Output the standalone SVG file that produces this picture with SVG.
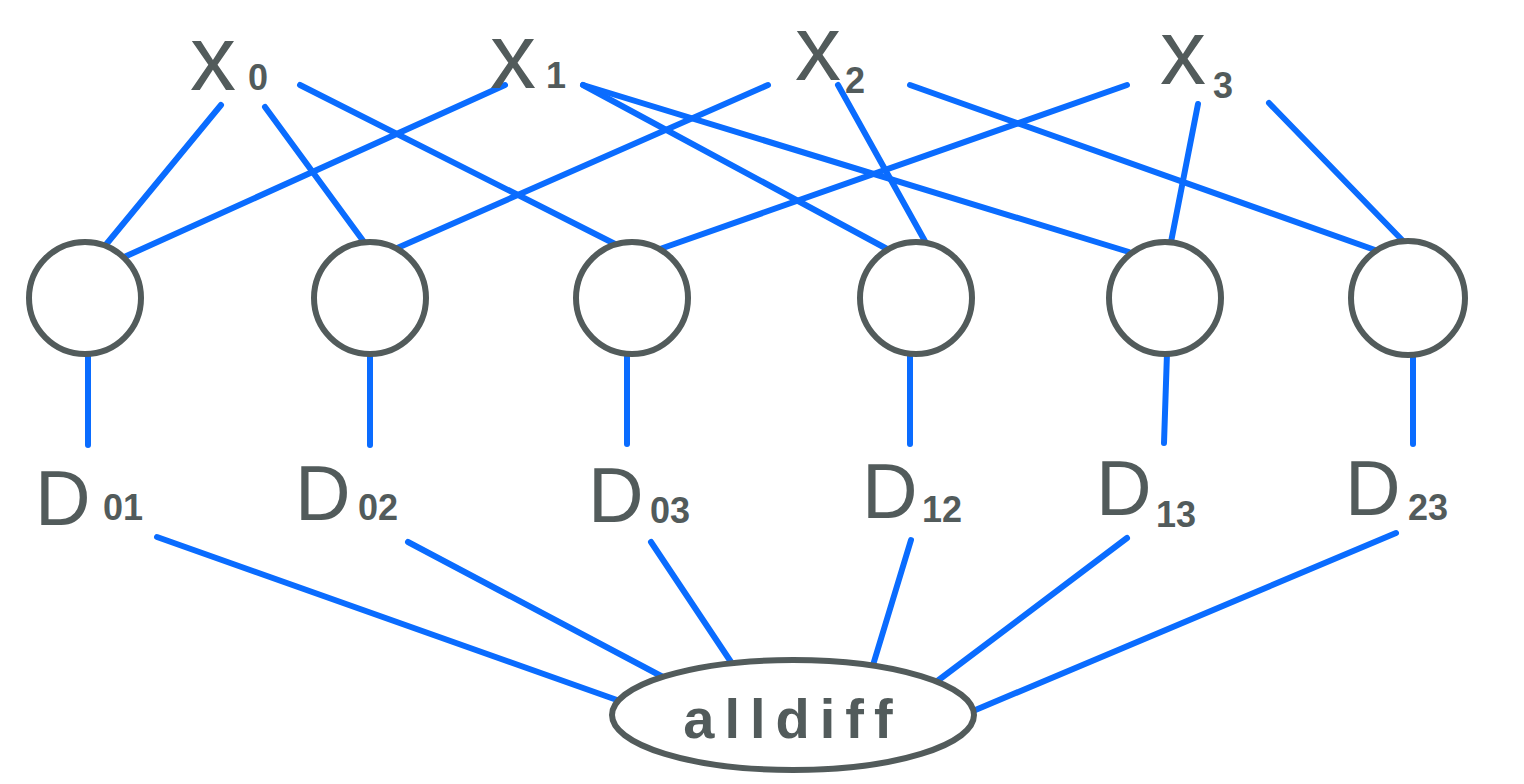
<svg xmlns="http://www.w3.org/2000/svg" width="1524" height="784" viewBox="0 0 1524 784">
<style>
.e{stroke:#0a6cff;stroke-width:6;stroke-linecap:round;fill:none}
.n{fill:#fff;stroke:#525b5b;stroke-width:6}
.t{fill:#525b5b;font-family:"Liberation Sans",Arial,sans-serif}
.v{font-size:92px}
.d{font-size:77px}
.s{font-size:36px;font-weight:bold}
</style>
<rect width="1524" height="784" fill="#fff"/>
<g id="connectors">
<line class="e" x1="221" y1="105" x2="104" y2="247"/>
<line class="e" x1="265" y1="107" x2="364" y2="242"/>
<line class="e" x1="300" y1="85" x2="617" y2="245"/>
<line class="e" x1="505" y1="85" x2="122" y2="258"/>
<line class="e" x1="583" y1="85" x2="889" y2="250"/>
<line class="e" x1="583" y1="85" x2="1129" y2="252"/>
<line class="e" x1="768" y1="85" x2="395" y2="249"/>
<line class="e" x1="838" y1="85" x2="926" y2="243"/>
<line class="e" x1="910" y1="85" x2="1375" y2="250"/>
<line class="e" x1="1127" y1="85" x2="660" y2="249"/>
<line class="e" x1="1198" y1="104" x2="1171" y2="242"/>
<line class="e" x1="1269" y1="103" x2="1405" y2="243"/>
<line class="e" x1="88" y1="353" x2="88" y2="445"/>
<line class="e" x1="370" y1="353" x2="370" y2="445"/>
<line class="e" x1="627" y1="353" x2="627" y2="444"/>
<line class="e" x1="910" y1="353" x2="910" y2="444"/>
<line class="e" x1="1167" y1="353" x2="1164" y2="443"/>
<line class="e" x1="1413" y1="353" x2="1413" y2="444"/>
<line class="e" x1="157" y1="537" x2="617" y2="700"/>
<line class="e" x1="408" y1="542" x2="663" y2="677"/>
<line class="e" x1="651" y1="542" x2="731" y2="662"/>
<line class="e" x1="911" y1="540" x2="873" y2="665"/>
<line class="e" x1="1127" y1="538" x2="936" y2="682"/>
<line class="e" x1="1396" y1="533" x2="973" y2="711"/>
</g>
<g id="x0"><text class="t v" x="190" y="90">x<tspan class="s" x="248" y="90">0</tspan></text></g>
<g id="x1"><text class="t v" x="490" y="88">x<tspan class="s" x="546" y="88">1</tspan></text></g>
<g id="x2"><text class="t v" x="795" y="80">x<tspan class="s" x="845" y="93">2</tspan></text></g>
<g id="x3"><text class="t v" x="1160" y="84">x<tspan class="s" x="1213" y="98">3</tspan></text></g>
<g id="c01"><circle class="n" cx="85" cy="298" r="56"/></g>
<g id="c02"><circle class="n" cx="370" cy="298" r="56"/></g>
<g id="c03"><circle class="n" cx="632" cy="298" r="56"/></g>
<g id="c12"><circle class="n" cx="916" cy="298" r="56"/></g>
<g id="c13"><circle class="n" cx="1165" cy="298" r="56"/></g>
<g id="c23"><circle class="n" cx="1408" cy="298" r="57"/></g>
<g id="D01"><text class="t d" x="35" y="525">D<tspan class="s" x="103" y="520">01</tspan></text></g>
<g id="D02"><text class="t d" x="295" y="520">D<tspan class="s" x="358" y="520">02</tspan></text></g>
<g id="D03"><text class="t d" x="588" y="522">D<tspan class="s" x="650" y="523">03</tspan></text></g>
<g id="D12"><text class="t d" x="862" y="518">D<tspan class="s" x="922" y="522">12</tspan></text></g>
<g id="D13"><text class="t d" x="1096" y="515">D<tspan class="s" x="1156" y="527">13</tspan></text></g>
<g id="D23"><text class="t d" x="1345" y="515">D<tspan class="s" x="1408" y="520">23</tspan></text></g>
<g id="alldiff">
<ellipse class="n" cx="793" cy="715" rx="181" ry="55"/>
<text class="t" x="793" y="738" text-anchor="middle" font-size="56" font-weight="bold" letter-spacing="10">alldiff</text>
</g>
</svg>
